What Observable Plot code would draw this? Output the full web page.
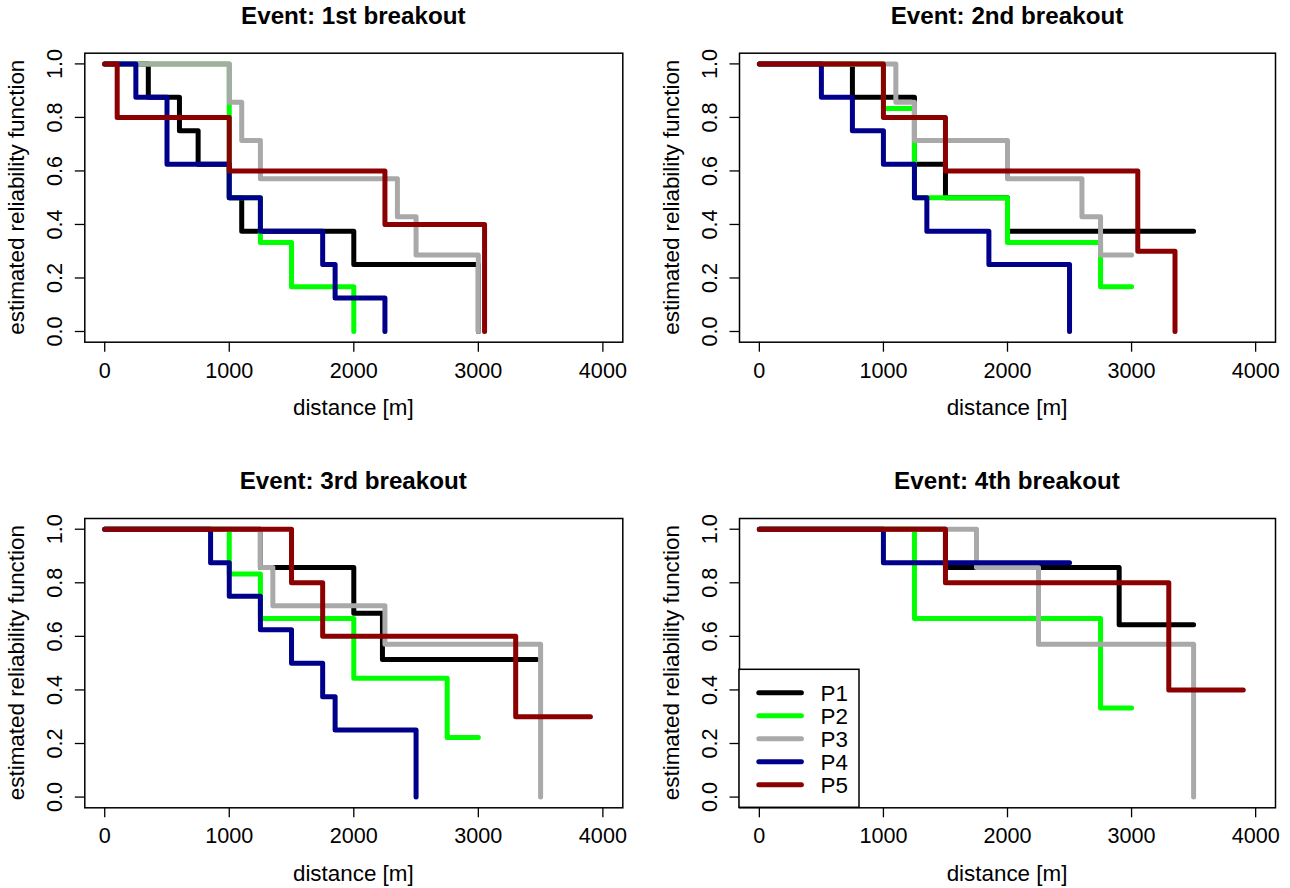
<!DOCTYPE html>
<html><head><meta charset="utf-8">
<script src="https://cdn.jsdelivr.net/npm/d3@7"></script>
<script src="https://cdn.jsdelivr.net/npm/@observablehq/plot@0.6"></script>
<style>
html,body{margin:0;padding:0;background:#fff;}
#root{position:relative;width:1290px;height:888px;overflow:hidden;font-family:"Liberation Sans",Arial,Helvetica,sans-serif;color:#000;}
#root svg{position:absolute;overflow:visible;}
</style></head><body><div id="root"></div>
<script>
// ---- data ----
const series = ["P1", "P2", "P3", "P4", "P5"];
const colors = ["#000000", "#00FF00", "#A9A9A9", "#00008B", "#8B0000"];
const titles = ["Event: 1st breakout", "Event: 2nd breakout", "Event: 3rd breakout", "Event: 4th breakout"];
const xTicks = [0, 1000, 2000, 3000, 4000];
const yTicks = [0, 0.2, 0.4, 0.6, 0.8, 1.0];
const xLabel = "distance [m]";
const yLabel = "estimated reliability function";

// Event 1 (per series: distances where the estimate changes, and the estimate)
const e1Dist = [
  [0, 350, 600, 750, 1000, 1100, 2000, 3000],
  [0, 1000, 1250, 1500, 2000],
  [0, 1000, 1100, 1250, 2350, 2500, 3000],
  [0, 250, 500, 1000, 1250, 1750, 1850, 2250],
  [0, 100, 1000, 2250, 3050]
];
const e1Rel = [
  [1, 0.875, 0.75, 0.625, 0.5, 0.375, 0.25, 0],
  [1, 0.5, 0.333, 0.167, 0],
  [1, 0.857, 0.714, 0.571, 0.429, 0.286, 0],
  [1, 0.875, 0.625, 0.5, 0.375, 0.25, 0.125, 0],
  [1, 0.8, 0.6, 0.4, 0]
];
// Event 2
const e2Dist = [
  [0, 750, 1250, 1500, 2000, 3500],
  [0, 1000, 1250, 2000, 2750, 3000],
  [0, 1100, 1250, 2000, 2600, 2750, 3000],
  [0, 500, 750, 1000, 1250, 1350, 1850, 2500],
  [0, 1000, 1500, 3050, 3350]
];
const e2Rel = [
  [1, 0.875, 0.625, 0.5, 0.375, 0.375],
  [1, 0.833, 0.5, 0.333, 0.167, 0.167],
  [1, 0.857, 0.714, 0.571, 0.429, 0.286, 0.286],
  [1, 0.875, 0.75, 0.625, 0.5, 0.375, 0.25, 0],
  [1, 0.8, 0.6, 0.3, 0]
];
// Event 3
const e3Dist = [
  [0, 1250, 2000, 2230, 3470],
  [0, 1000, 1250, 2000, 2750, 3000],
  [0, 1250, 1350, 2250, 3500],
  [0, 850, 1000, 1250, 1500, 1750, 1850, 2500],
  [0, 1500, 1750, 3300, 3900]
];
const e3Rel = [
  [1, 0.857, 0.686, 0.514, 0.514],
  [1, 0.833, 0.667, 0.444, 0.222, 0.222],
  [1, 0.857, 0.714, 0.571, 0],
  [1, 0.875, 0.75, 0.625, 0.5, 0.375, 0.25, 0],
  [1, 0.8, 0.6, 0.3, 0.3]
];
// Event 4
const e4Dist = [
  [0, 1500, 2900, 3500],
  [0, 1250, 2750, 3000],
  [0, 1750, 2250, 3500],
  [0, 1000, 2500],
  [0, 1500, 3300, 3900]
];
const e4Rel = [
  [1, 0.857, 0.643, 0.643],
  [1, 0.667, 0.333, 0.333],
  [1, 0.857, 0.571, 0],
  [1, 0.875, 0.875],
  [1, 0.8, 0.4, 0.4]
];

// ---- layout ----
const FONT = '"Liberation Sans", Arial, Helvetica, sans-serif';
const FS = 21.6;
const LFS = 22.4;
const TFS = 24.2;
const LW = 5;
const panels = [
  {dist: e1Dist, rel: e1Rel, left: 0,   top: 0,   w: 645, h: 444, ml: 84.3, mr: 22.7, mt: 52.7, mb: 102.3},
  {dist: e2Dist, rel: e2Rel, left: 645, top: 0,   w: 645, h: 444, ml: 94,   mr: 15,   mt: 52.7, mb: 102.3},
  {dist: e3Dist, rel: e3Rel, left: 0,   top: 444, w: 645, h: 444, ml: 84.3, mr: 22.7, mt: 74,   mb: 80.7},
  {dist: e4Dist, rel: e4Rel, left: 645, top: 444, w: 645, h: 444, ml: 94,   mr: 15,   mt: 74,   mb: 80.7}
];

const root = document.getElementById("root");

panels.forEach((p, i) => {
  const rows = [];
  p.dist.forEach((xs, s) => xs.forEach((x, k) => rows.push({series: series[s], distance: x, rel: p.rel[s][k]})));
  const svg = Plot.plot({
    width: p.w, height: p.h,
    marginLeft: p.ml, marginRight: p.mr, marginTop: p.mt, marginBottom: p.mb,
    x: {domain: [-160, 4160]},
    y: {domain: [-0.04, 1.04]},
    color: {domain: series, range: colors},
    style: {fontFamily: FONT, fontSize: FS + "px", background: "transparent", color: "#000"},
    marks: [
      Plot.line(rows, {x: "distance", y: "rel", z: "series", stroke: "series", curve: "step-after",
        strokeWidth: LW, strokeLinecap: "round", strokeLinejoin: "round"}),
      Plot.frame({stroke: "#000", strokeWidth: 1.5}),
      Plot.axisX({ticks: xTicks, tickSize: 10, tickPadding: 10, tickFormat: d => String(d), label: null,
        fontSize: FS, stroke: "#000", strokeWidth: 1.3, fill: "#000"}),
      Plot.axisY({ticks: yTicks, tickSize: 9.5, tickPadding: 13, tickRotate: -90, tickFormat: d => d.toFixed(1), label: null,
        fontSize: FS, stroke: "#000", strokeWidth: 1.3, fill: "#000"})
    ]
  });
  svg.style.left = p.left + "px";
  svg.style.top = p.top + "px";
  root.appendChild(svg);
});

// ---- overlay: titles, axis titles, legend ----
const ov = d3.select(root).append("svg")
  .attr("width", 1290).attr("height", 888)
  .style("left", "0px").style("top", "0px")
  .attr("font-family", FONT);

panels.forEach((p, i) => {
  const bx0 = p.left + p.ml, bx1 = p.left + p.w - p.mr;
  const by0 = p.top + p.mt, by1 = p.top + p.h - p.mb;
  const cx = (bx0 + bx1) / 2, cy = (by0 + by1) / 2;
  ov.append("text").attr("x", cx).attr("y", by0 - 28.7)
    .attr("text-anchor", "middle").attr("font-weight", "bold").attr("font-size", TFS)
    .text(titles[i]);
  ov.append("text").attr("x", cx).attr("y", by1 + 73.3)
    .attr("text-anchor", "middle").attr("font-size", LFS).text(xLabel);
  ov.append("text").attr("transform", `translate(${bx0 - 60.3},${cy}) rotate(-90)`)
    .attr("text-anchor", "middle").attr("font-size", LFS).text(yLabel);
});

// legend in the 4th panel
{
  const p = panels[3];
  const bx0 = p.left + p.ml, by1 = p.top + p.h - p.mb;
  const lg = ov.append("g");
  lg.append("rect").attr("x", bx0).attr("y", 669.3).attr("width", 859 - bx0).attr("height", by1 - 669.3)
    .attr("fill", "#fff").attr("stroke", "#000").attr("stroke-width", 1.5);
  series.forEach((s, k) => {
    const y = 692.7 + k * 23;
    lg.append("line").attr("x1", 758.8).attr("x2", 801.4).attr("y1", y).attr("y2", y)
      .attr("stroke", colors[k]).attr("stroke-width", LW).attr("stroke-linecap", "round");
    lg.append("text").attr("x", 820.6).attr("y", y + 7.9).attr("font-size", LFS).text(s);
  });
}
</script>
</body></html>
